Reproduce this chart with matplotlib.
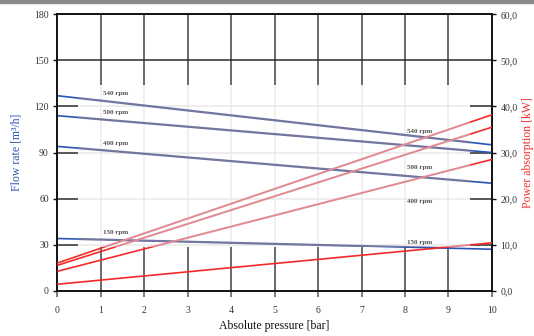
import matplotlib
matplotlib.use("Agg")
import matplotlib.pyplot as plt
from matplotlib.patches import Rectangle
from matplotlib.ticker import FuncFormatter

plt.rcParams['font.family'] = ['Liberation Serif', 'DejaVu Serif']

# Absolute pressure [bar] at the two ends of each characteristic
pressure = [0, 10]

# Flow rate [m³/h] per shaft speed
flow_540 = [127, 95]
flow_500 = [114, 90]
flow_400 = [94, 70]
flow_150 = [34, 27]

# Power absorption [kW] per shaft speed
power_540 = [6.0, 38.2]
power_500 = [5.5, 35.5]
power_400 = [4.2, 28.5]
power_150 = [1.4, 10.4]

speed_labels = ["540 rpm", "500 rpm", "400 rpm", "150 rpm"]

flow_ticks = [0, 30, 60, 90, 120, 150, 180]
power_ticks = [0, 10, 20, 30, 40, 50, 60]
pressure_ticks = list(range(0, 11))

BLUE = "#2a55b5"
RED = "#f42a2a"
BLUE_SOFT = "#72769f"
RED_SOFT = "#e08a92"

fig = plt.figure(figsize=(5.34, 3.36), dpi=100)
fig.patches.append(Rectangle((0, 0.992), 1, 0.008, transform=fig.transFigure,
                             color="#8a8a8a", zorder=0))
ax = fig.add_axes([0.1071, 0.1348, 0.8142, 0.8226])
ax2 = ax.twinx()

ax.set_xlim(0, 10)
ax.set_ylim(0, 180)
ax2.set_ylim(0, 60)
ax.set_xticks(pressure_ticks)
ax.set_yticks(flow_ticks)
ax2.set_yticks(power_ticks)
ax2.yaxis.set_major_formatter(FuncFormatter(lambda v, p: f"{v:.1f}".replace(".", ",")))

# grid
for xv in pressure_ticks[1:-1]:
    ax.axvline(xv, color="#6a6a6a", lw=1.4, zorder=1)
for yv in flow_ticks[1:-1]:
    ax.axhline(yv, color="#2a2a2a", lw=1.1, zorder=1)

for sp in ["left", "right", "bottom", "top"]:
    ax.spines[sp].set_color("#111111")
    ax.spines[sp].set_linewidth(1.2)
    ax2.spines[sp].set_color("#111111")
    ax2.spines[sp].set_linewidth(1.2)

tick_kw = dict(labelsize=7, length=3, width=1.0, colors="#111111", labelcolor="#333333")
ax.tick_params(axis="y", pad=3, **tick_kw)
ax2.tick_params(axis="y", pad=3, **tick_kw)
ax.tick_params(axis="x", pad=7, labelsize=7, length=4, width=1.2, colors="#666666",
               labelcolor="#333333")

ax.set_ylabel("Flow rate [m³/h]", color=BLUE, fontsize=8.5)
ax2.set_ylabel("Power absorption [kW]", color=RED, fontsize=8.5)
ax.set_xlabel("Absolute pressure [bar]", color="#111111", fontsize=8.5)
ax.yaxis.set_label_coords(-0.08, 0.5)
ax2.yaxis.set_label_coords(1.068, 0.5)
ax.xaxis.set_label_coords(0.5, -0.105)

flows = [flow_540, flow_500, flow_400, flow_150]
powers = [power_540, power_500, power_400, power_150]

for f in flows:
    ax.plot(pressure, f, color=BLUE, lw=1.2, zorder=3, solid_capstyle="butt")
for p in powers:
    ax2.plot(pressure, p, color=RED, lw=1.2, zorder=3, solid_capstyle="butt")

# washed-out panel in the middle of the chart
haze = Rectangle((0.48, 28.5), 9.01, 105.5, transform=ax.transData,
                 facecolor="white", edgecolor="none", alpha=0.9, zorder=5)
ax2.add_patch(haze)

for f in flows:
    ln, = ax2.plot(pressure, f, color=BLUE_SOFT, lw=1.6, zorder=6,
                   transform=ax.transData)
    ln.set_clip_path(haze)
for p in powers:
    ln, = ax2.plot(pressure, p, color=RED_SOFT, lw=1.4, zorder=6)
    ln.set_clip_path(haze)

lab_kw = dict(fontsize=5, color="#505050", fontweight="bold", zorder=7,
              ha="left", va="center")
# speed labels on the flow curves (left) and power curves (right)
for f, name in zip(flows, speed_labels):
    ax2.text(1.05, f[0] + (f[1] - f[0]) * 0.105 + 4.5, name,
             transform=ax.transData, **lab_kw)
for p, name, dy in zip(powers, speed_labels, [2.7, -2.9, -4.4, 1.9]):
    xv = 8.05
    yv = p[0] + (p[1] - p[0]) * xv / 10 + dy
    ax2.text(xv, yv, name, **lab_kw)

fig.savefig("out.png", dpi=100)
